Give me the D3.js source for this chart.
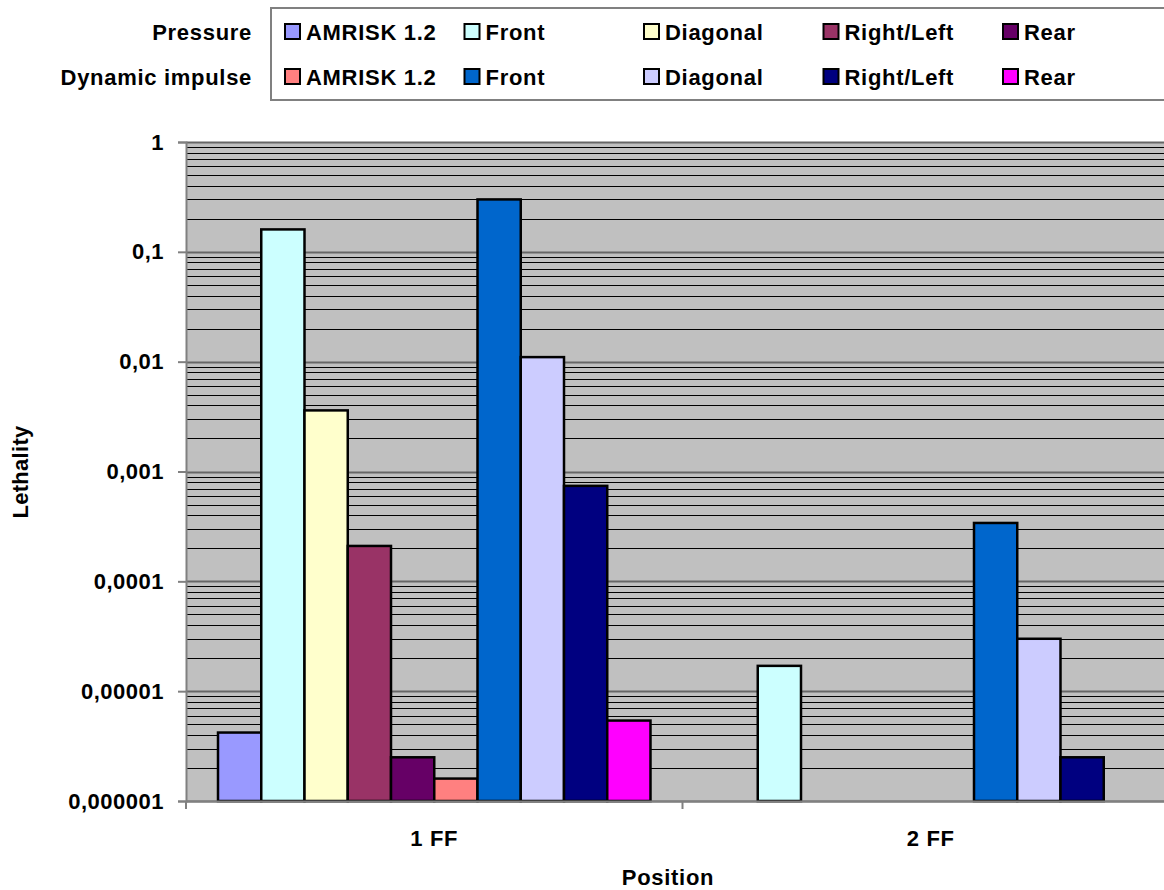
<!DOCTYPE html>
<html><head><meta charset="utf-8">
<script src="https://cdn.jsdelivr.net/npm/d3@7"></script>
<style>
html,body{margin:0;padding:0;background:#fff;}
svg{display:block;font-family:"Liberation Sans",Arial,sans-serif;font-weight:bold;}
</style></head>
<body>
<svg id="chart" width="1164" height="890"></svg>
<script>
// ---- data ----
const categories = ["1 FF", "2 FF"];
const seriesNames = ["AMRISK 1.2", "Front", "Diagonal", "Right/Left", "Rear"];
const groups = ["Pressure", "Dynamic impulse"];
const pressure1FF = [4.2e-6, 0.16, 0.0036, 0.00021, 2.5e-6];
const pressure2FF = [null, 1.7e-5, null, null, null];
const dynamic1FF  = [1.6e-6, 0.30, 0.011, 0.00074, 5.4e-6];
const dynamic2FF  = [null, 3.4e-4, 3.0e-5, 2.5e-6, null];
const pressureColors = ["#9999FF", "#CCFFFF", "#FFFFCC", "#993366", "#660066"];
const dynamicColors  = ["#FF8080", "#0066CC", "#CCCCFF", "#000080", "#FF00FF"];
const yTickValues = [1, 0.1, 0.01, 0.001, 0.0001, 0.00001, 0.000001];
const yTickLabels = ["1", "0,1", "0,01", "0,001", "0,0001", "0,00001", "0,000001"];

// ---- layout ----
const svg = d3.select("#chart");
const plot = {left: 186, right: 1179, top: 142, bottom: 801};
const FS = 22;
const LS = 0.7;

const x = d3.scaleBand().domain(categories).range([plot.left, plot.right]);
const seriesKeys = [];
groups.forEach((g, gi) => seriesNames.forEach((s, si) => seriesKeys.push(gi + "|" + si)));
const xs = d3.scaleBand().domain(seriesKeys).range([0, x.bandwidth()]).paddingOuter(0.74).paddingInner(0);
const y = d3.scaleLog().domain([1e-6, 1]).range([plot.bottom, plot.top]);

// plot background
svg.append("rect").attr("x", plot.left).attr("y", plot.top)
  .attr("width", plot.right - plot.left).attr("height", plot.bottom - plot.top)
  .attr("fill", "#C0C0C0");

// minor gridlines
const minor = [];
for (let e = -6; e < 0; e++) for (let m = 2; m <= 9; m++) minor.push(m * Math.pow(10, e));
svg.append("g").selectAll("line").data(minor).join("line")
  .attr("x1", plot.left).attr("x2", plot.right)
  .attr("y1", d => Math.round(y(d)) + 0.5).attr("y2", d => Math.round(y(d)) + 0.5)
  .attr("stroke", "#000").attr("stroke-width", 1);
// major gridlines
svg.append("g").selectAll("line").data(yTickValues).join("line")
  .attr("x1", plot.left).attr("x2", plot.right)
  .attr("y1", d => Math.round(y(d)) + 0.5).attr("y2", d => Math.round(y(d)) + 0.5)
  .attr("stroke", "#666").attr("stroke-width", 2);

// bars
const barData = [];
categories.forEach((c, ci) => {
  const pv = ci === 0 ? pressure1FF : pressure2FF;
  const dv = ci === 0 ? dynamic1FF : dynamic2FF;
  pv.forEach((v, si) => { if (v != null) barData.push({c, key: "0|" + si, v, color: pressureColors[si]}); });
  dv.forEach((v, si) => { if (v != null) barData.push({c, key: "1|" + si, v, color: dynamicColors[si]}); });
});
svg.append("g").selectAll("rect").data(barData).join("rect")
  .attr("x", d => x(d.c) + xs(d.key))
  .attr("width", xs.bandwidth())
  .attr("y", d => y(d.v))
  .attr("height", d => y(1e-6) - y(d.v))
  .attr("fill", d => d.color)
  .attr("stroke", "#000").attr("stroke-width", 2.5);

// y axis
const yAxis = d3.axisLeft(y).tickValues(yTickValues)
  .tickFormat((d, i) => yTickLabels[i]).tickSize(8).tickPadding(14);
const gy = svg.append("g").attr("transform", `translate(${plot.left},0)`).call(yAxis);
gy.select(".domain").attr("stroke", "#808080").attr("stroke-width", 2);
gy.selectAll(".tick line").attr("stroke", "#808080").attr("stroke-width", 2);
gy.selectAll(".tick text").attr("font-size", FS).attr("font-family", "Liberation Sans, Arial, sans-serif")
  .attr("font-weight", "bold").attr("fill", "#000").attr("letter-spacing", 0.5);

// x axis
const xAxis = d3.axisBottom(x).tickSize(0).tickPadding(29);
const gx = svg.append("g").attr("transform", `translate(0,${plot.bottom})`).call(xAxis);
gx.select(".domain").attr("stroke", "#808080").attr("stroke-width", 2);
gx.selectAll(".tick text").attr("font-size", FS).attr("font-family", "Liberation Sans, Arial, sans-serif")
  .attr("font-weight", "bold").attr("fill", "#000").attr("letter-spacing", LS);
// category boundary ticks
const bounds = categories.map(c => x(c)).concat([x(categories[categories.length - 1]) + x.bandwidth()]);
gx.selectAll(".bt").data(bounds).join("line").attr("class", "bt")
  .attr("x1", d => d).attr("x2", d => d).attr("y1", 0).attr("y2", 8)
  .attr("stroke", "#808080").attr("stroke-width", 2);

// axis titles
svg.append("text").attr("x", 668).attr("y", 885).attr("text-anchor", "middle")
  .attr("font-size", FS).attr("letter-spacing", LS).text("Position");
svg.append("text").attr("transform", "translate(28,472) rotate(-90)").attr("text-anchor", "middle")
  .attr("font-size", FS).attr("letter-spacing", 0.3).text("Lethality");

// legend
const legend = svg.append("g");
legend.append("rect").attr("x", 271).attr("y", 8).attr("width", 1000).attr("height", 92)
  .attr("fill", "#fff").attr("stroke", "#808080").attr("stroke-width", 2);
const rowY = [32, 77];
const colX = d3.range(seriesNames.length).map(i => 284 + i * 179.5);
groups.forEach((g, gi) => {
  legend.append("text").attr("x", 252).attr("y", rowY[gi]).attr("dy", "0.36em")
    .attr("text-anchor", "end").attr("font-size", FS).attr("letter-spacing", LS).text(g);
  const cols = gi === 0 ? pressureColors : dynamicColors;
  seriesNames.forEach((s, si) => {
    legend.append("rect").attr("x", colX[si] + 1).attr("y", rowY[gi] - 8).attr("width", 15).attr("height", 15)
      .attr("fill", cols[si]).attr("stroke", "#000").attr("stroke-width", 2);
    legend.append("text").attr("x", colX[si] + 22).attr("y", rowY[gi]).attr("dy", "0.36em")
      .attr("font-size", FS).attr("letter-spacing", LS).text(s);
  });
});
</script>
</body></html>
